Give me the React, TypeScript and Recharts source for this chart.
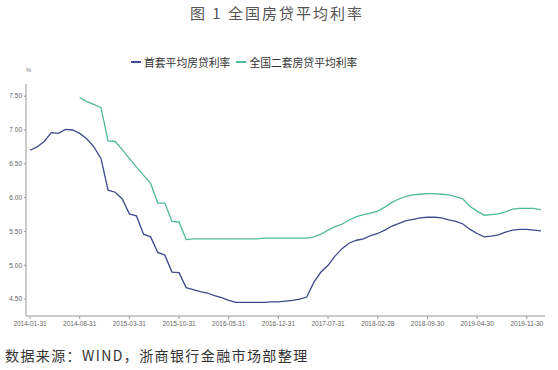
import React from "react"
import { Line, LineChart, XAxis, YAxis } from "recharts"

// month-end dates, 2014-01 .. 2020-01
const START_YEAR = 2014
const MONTH_COUNT = 73
const months: string[] = Array.from({ length: MONTH_COUNT }, (_, i) => {
  const y = START_YEAR + Math.floor(i / 12)
  const m = (i % 12) + 1
  const last = new Date(y, m, 0).getDate()
  return `${y}-${String(m).padStart(2, "0")}-${String(last).padStart(2, "0")}`
})

// 首套平均房贷利率 (%)
const firstHome = [
  6.7, 6.75, 6.83, 6.96, 6.95, 7.01, 7.0, 6.95, 6.87, 6.75, 6.58, 6.11, 6.08,
  5.98, 5.76, 5.73, 5.46, 5.42, 5.19, 5.15, 4.9, 4.89, 4.67, 4.64, 4.61, 4.59,
  4.55, 4.52, 4.48, 4.45, 4.45, 4.45, 4.45, 4.45, 4.46, 4.46, 4.47, 4.48, 4.5,
  4.53, 4.75, 4.9, 5.0, 5.14, 5.25, 5.33, 5.37, 5.39, 5.44, 5.47, 5.52, 5.58,
  5.62, 5.66, 5.68, 5.7, 5.71, 5.71, 5.7, 5.67, 5.65, 5.61, 5.53, 5.47, 5.42,
  5.43, 5.45, 5.49, 5.52, 5.53, 5.53, 5.52, 5.51,
]

// 全国二套房贷平均利率 (%), starts 2014-08
const secondHome = [
  null, null, null, null, null, null, null, 7.48, 7.42, 7.38, 7.33, 6.84, 6.83,
  6.71, 6.58, 6.45, 6.33, 6.21, 5.92, 5.92, 5.65, 5.64, 5.38, 5.39, 5.39, 5.39,
  5.39, 5.39, 5.39, 5.39, 5.39, 5.39, 5.39, 5.4, 5.4, 5.4, 5.4, 5.4, 5.4, 5.4,
  5.42, 5.46, 5.52, 5.57, 5.61, 5.67, 5.72, 5.75, 5.77, 5.8, 5.86, 5.93, 5.98,
  6.02, 6.04, 6.05, 6.06, 6.06, 6.05, 6.04, 6.01, 5.98, 5.87, 5.8, 5.74, 5.75,
  5.76, 5.79, 5.83, 5.84, 5.84, 5.84, 5.82,
]

const yTicks = [4.5, 5.0, 5.5, 6.0, 6.5, 7.0, 7.5]

const BLUE = "#3d4a8c"
const GREEN = "#52b99c"

const data = months.map((d, i) => ({
  date: d,
  first: firstHome[i],
  second: secondHome[i],
}))

const legendItems = [
  { label: "首套平均房贷利率", color: BLUE },
  { label: "全国二套房贷平均利率", color: GREEN },
]

function LegendBox() {
  return (
    <div
      style={{
        position: "absolute",
        top: 54,
        left: 131,
        display: "flex",
        alignItems: "center",
        gap: 6,
      }}
    >
      {legendItems.map((it) => (
        <div key={it.label} style={{ display: "flex", alignItems: "center" }}>
          <span
            style={{
              display: "inline-block",
              width: 10,
              height: 2,
              background: it.color,
              marginRight: 3,
            }}
          />
          <span style={{ fontSize: 10.8, color: "#333", whiteSpace: "nowrap" }}>
            {it.label}
          </span>
        </div>
      ))}
    </div>
  )
}

const tickStyle = { fontSize: 6.5, fill: "#666", fontFamily: "Liberation Sans" }

export default function App() {
  return (
    <div
      style={{
        position: "absolute",
        left: 0,
        top: 0,
        width: 558,
        height: 370,
        background: "#fff",
        fontFamily: "'Noto Sans CJK SC', sans-serif",
      }}
    >
      <div
        style={{
          position: "absolute",
          top: 2,
          left: 190,
          fontSize: 15,
          letterSpacing: 2,
          color: "#555",
          whiteSpace: "nowrap",
        }}
      >
        图 1 全国房贷平均利率
      </div>
      <LegendBox />
      <div
        style={{
          position: "absolute",
          top: 67,
          left: 26,
          fontSize: 6,
          color: "#777",
          fontFamily: "Liberation Sans",
        }}
      >
        %
      </div>
      <LineChart
        width={558}
        height={370}
        data={data}
        margin={{ top: 84, right: 13, bottom: 0, left: 0 }}
      >
        <XAxis
          dataKey="date"
          interval={6}
          padding={{ left: 4, right: 4 }}
          tick={tickStyle}
          tickSize={3}
          axisLine={{ stroke: "#999" }}
          tickLine={{ stroke: "#999" }}
          height={54}
        />
        <YAxis
          width={26}
          domain={[4.25, 7.68]}
          ticks={yTicks}
          tickFormatter={(v) => Number(v).toFixed(2)}
          tick={tickStyle}
          tickSize={2}
          axisLine={{ stroke: "#999" }}
          tickLine={{ stroke: "#999" }}
          allowDataOverflow
        />
        <Line
          dataKey="first"
          stroke={BLUE}
          strokeWidth={1.3}
          dot={false}
          type="linear"
          isAnimationActive={false}
        />
        <Line
          dataKey="second"
          stroke={GREEN}
          strokeWidth={1.3}
          dot={false}
          type="linear"
          isAnimationActive={false}
        />
      </LineChart>
      <div
        style={{
          position: "absolute",
          top: 345,
          left: 5,
          fontSize: 14,
          letterSpacing: 1.4,
          color: "#333",
          whiteSpace: "nowrap",
        }}
      >
        数据来源：WIND，浙商银行金融市场部整理
      </div>
    </div>
  )
}
